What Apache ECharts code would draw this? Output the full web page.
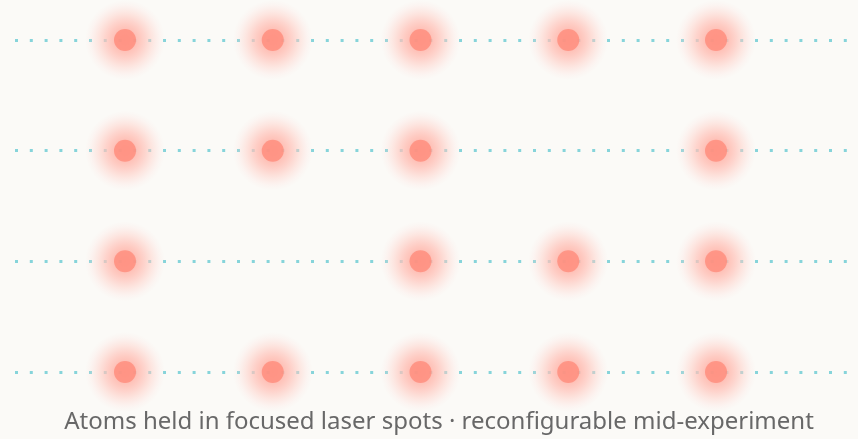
<!DOCTYPE html>
<html>
<head>
<meta charset="utf-8">
<script src="https://cdn.jsdelivr.net/npm/echarts@6/dist/echarts.min.js"></script>
<style>
  html, body { margin: 0; padding: 0; background: #fbfaf7; }
  #chart { width: 858px; height: 439px; }
</style>
</head>
<body>
<div id="chart"></div>
<script>
// Trap columns (x positions) and rows (y positions)
const columns = [1, 2, 3, 4, 5];
const rows = [1, 2, 3, 4];
// Occupancy per row (1 = atom present, 0 = empty trap)
const row1 = [1, 1, 1, 1, 1];
const row2 = [1, 1, 1, 0, 1];
const row3 = [1, 0, 1, 1, 1];
const row4 = [1, 1, 1, 1, 1];
const occupancy = [row1, row2, row3, row4];
const caption = 'Atoms held in focused laser spots · reconfigurable mid-experiment';

const atoms = [];
rows.forEach((r, ri) => {
  columns.forEach((c, ci) => {
    if (occupancy[ri][ci]) atoms.push([c, r]);
  });
});

const glow = new echarts.graphic.RadialGradient(0.5, 0.5, 0.5, [
  { offset: 0, color: 'rgba(255, 165, 152, 1)' },
  { offset: 0.275, color: 'rgba(255, 179, 168, 1)' },
  { offset: 0.4, color: 'rgba(255, 192, 182, 1)' },
  { offset: 0.5, color: 'rgba(255, 195, 186, 0.85)' },
  { offset: 0.62, color: 'rgba(255, 201, 192, 0.65)' },
  { offset: 0.75, color: 'rgba(255, 210, 203, 0.45)' },
  { offset: 0.875, color: 'rgba(255, 215, 212, 0.2)' },
  { offset: 1, color: 'rgba(255, 220, 216, 0)' }
]);

const chart = echarts.init(document.getElementById('chart'), null, { renderer: 'canvas' });
chart.setOption({
  backgroundColor: '#fbfaf7',
  animation: false,
  grid: { left: 15, right: 0, top: 0, bottom: 0 },
  xAxis: {
    type: 'value', min: 0.2555, max: 5.961,
    axisLine: { show: false }, axisTick: { show: false },
    axisLabel: { show: false }, splitLine: { show: false }
  },
  yAxis: {
    type: 'value', inverse: true, min: 0.6386, max: 4.6054,
    axisLine: { show: false }, axisTick: { show: false },
    axisLabel: { show: false }, splitLine: { show: false }
  },
  graphic: [{
    type: 'text',
    x: 439, y: 422,
    z: 100,
    style: {
      text: caption,
      fill: '#686868',
      font: '24px "Noto Sans"',
      textAlign: 'center',
      textVerticalAlign: 'middle'
    }
  }],
  series: [
    {
      type: 'scatter',
      z: 0,
      data: [],
      markLine: {
        z: 0,
        silent: true,
        symbol: 'none',
        label: { show: false },
        lineStyle: { color: '#86d4da', width: 3, type: [3, 11.8], opacity: 1 },
        data: rows.map(r => ({ yAxis: r }))
      }
    },
    {
      type: 'scatter',
      z: 2,
      symbol: 'circle',
      symbolSize: 80,
      silent: true,
      itemStyle: { color: glow },
      data: atoms
    },
    {
      type: 'scatter',
      z: 3,
      symbol: 'circle',
      symbolSize: 22,
      silent: true,
      itemStyle: { color: '#ff8b7b' },
      data: atoms
    }
  ]
});
</script>
</body>
</html>
